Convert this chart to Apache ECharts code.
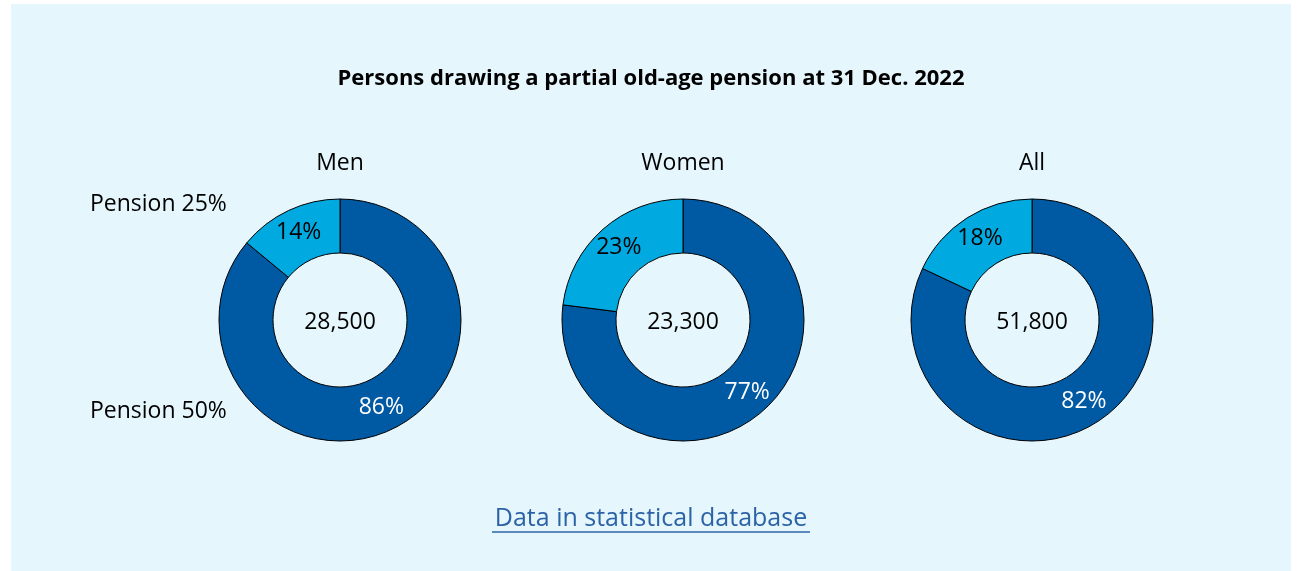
<!DOCTYPE html>
<html>
<head>
<meta charset="utf-8">
<script src="https://cdn.jsdelivr.net/npm/echarts@6/dist/echarts.min.js"></script>
<style>
html,body{margin:0;padding:0;background:#ffffff;}
#chart{position:absolute;left:11px;top:4px;width:1280px;height:567px;background:#e5f6fd;}
</style>
</head>
<body>
<div id="chart"></div>
<script>
const chartTitle = 'Persons drawing a partial old-age pension at 31 Dec. 2022';
const groups = ['Men', 'Women', 'All'];
const totals = ['28,500', '23,300', '51,800'];
const categories = ['Pension 50%', 'Pension 25%'];
const pension50 = [86, 77, 82];
const pension25 = [14, 23, 18];
const linkText = 'Data in statistical database';

const FONT = '"Open Sans", Lato, sans-serif';
const dark = '#0059a3';
const light = '#00a9e0';
// pie centres relative to the chart div (div offset 11,4)
const centersX = [329, 672, 1021];
const centerY = 316;

const chart = echarts.init(document.getElementById('chart'));

const series = groups.map((g, i) => ({
  type: 'pie',
  center: [centersX[i], centerY],
  radius: [67, 121],
  startAngle: 90,
  clockwise: true,
  silent: true,
  animation: false,
  itemStyle: { borderColor: '#000', borderWidth: 1 },
  label: {
    show: true,
    position: 'inside',
    fontFamily: FONT,
    fontSize: 23,
    formatter: p => p.value + '%'
  },
  labelLine: { show: false },
  data: [
    { name: categories[0], value: pension50[i], itemStyle: { color: dark }, label: { color: '#ffffff' } },
    { name: categories[1], value: pension25[i], itemStyle: { color: light }, label: { color: '#000000' } }
  ]
}));

const graphics = [];
groups.forEach((g, i) => {
  graphics.push({
    type: 'text', x: centersX[i], y: 159,
    style: { text: g, fontFamily: FONT, fontSize: 23, fill: '#000', textAlign: 'center', textVerticalAlign: 'middle' }
  });
  graphics.push({
    type: 'text', x: centersX[i], y: centerY + 2,
    style: { text: totals[i], fontFamily: FONT, fontSize: 23, fill: '#000', textAlign: 'center', textVerticalAlign: 'middle' }
  });
});
graphics.push({
  type: 'text', x: 79, y: 200,
  style: { text: categories[1], fontFamily: FONT, fontSize: 23, fill: '#000', textAlign: 'left', textVerticalAlign: 'middle' }
});
graphics.push({
  type: 'text', x: 79, y: 407,
  style: { text: categories[0], fontFamily: FONT, fontSize: 23, fill: '#000', textAlign: 'left', textVerticalAlign: 'middle' }
});
graphics.push({
  type: 'text', x: 640, y: 75,
  style: { text: chartTitle, fontFamily: FONT, fontSize: 22, fontWeight: 'bold', fill: '#000', textAlign: 'center', textVerticalAlign: 'middle' }
});
graphics.push({
  type: 'text', x: 640, y: 515,
  style: { text: linkText, fontFamily: FONT, fontSize: 25, fill: '#2c63a7', textAlign: 'center', textVerticalAlign: 'middle' }
});
graphics.push({
  type: 'line', shape: { x1: 481, y1: 528, x2: 799, y2: 528 },
  style: { stroke: '#2c63a7', lineWidth: 1.5 }
});

chart.setOption({
  animation: false,
  series: series,
  graphic: graphics
});
</script>
</body>
</html>
